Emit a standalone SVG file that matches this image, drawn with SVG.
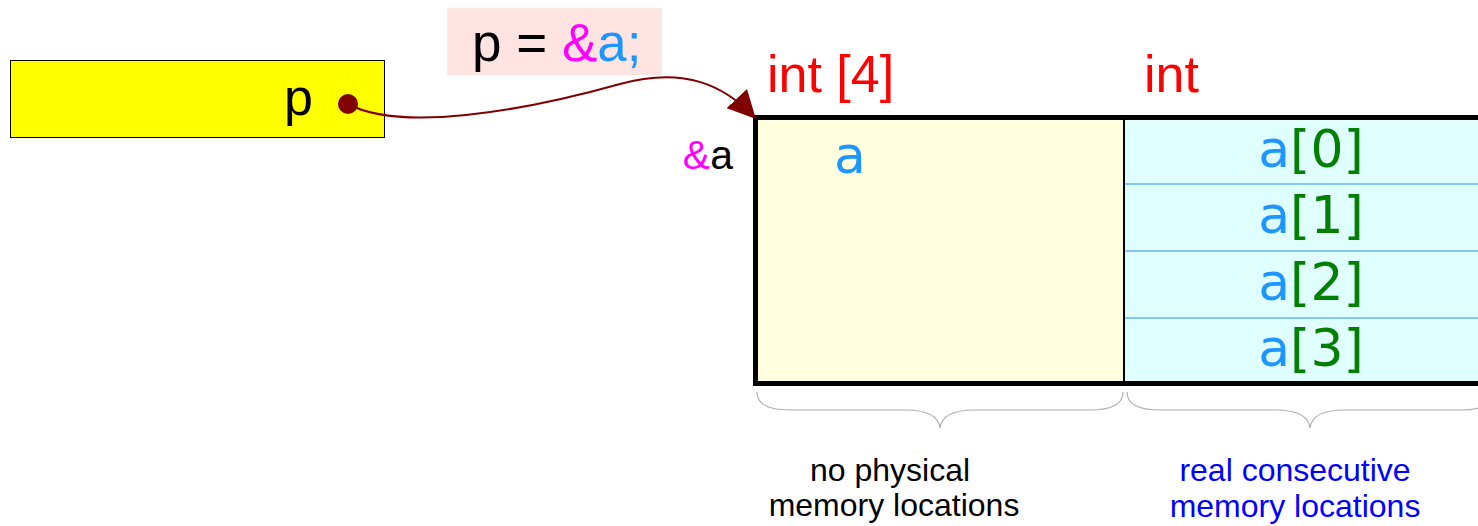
<svg xmlns="http://www.w3.org/2000/svg" width="1478" height="526" viewBox="0 0 1478 526">
<style>
.sans{font-family:"Liberation Sans",Arial,sans-serif}
.dv{font-family:"DejaVu Sans",sans-serif;font-size:52px}
.blue{fill:#1e96ff}
.green{fill:#007f00}
.mag{fill:#ff00ff}
.red{fill:#ff0000}
.brace{fill:none;stroke:#b0b0b0;stroke-width:1.2}
.sep{stroke:#66b3ff;stroke-width:1.5}
</style>
<defs>
<marker id="ah" viewBox="0 0 10 10" refX="9" refY="5" markerWidth="28" markerHeight="28" markerUnits="userSpaceOnUse" orient="auto">
<path d="M0,0 L10,5 L0,10 Z" fill="#800000"/>
</marker>
</defs>
<g id="pointer-p">
<rect x="10.5" y="60.5" width="374" height="77" fill="#ffff00" stroke="#000" stroke-width="1"/>
<text x="313" y="115" class="sans" font-size="52" text-anchor="end" fill="#000">p</text>
<circle cx="348" cy="104" r="10" fill="#800000"/>
</g>
<g id="label-assign">
<rect x="447" y="8" width="215" height="67" fill="#ffe4e1"/>
<text x="472" y="61" class="sans" font-size="53"><tspan fill="#000">p = </tspan><tspan class="mag">&amp;</tspan><tspan class="blue">a;</tspan></text>
</g>
<g id="type-labels">
<text x="767" y="92" class="sans red" font-size="52">int [4]</text>
<text x="1144" y="92" class="sans red" font-size="52">int</text>
</g>
<g id="addr-label">
<text x="733" y="169" class="sans" font-size="41" text-anchor="end"><tspan class="mag">&amp;</tspan><tspan fill="#000">a</tspan></text>
</g>
<g id="array-a">
<rect x="757" y="119" width="367" height="263" fill="#ffffe0"/>
<rect x="1124" y="119" width="370" height="263" fill="#e0ffff"/>
<line x1="1125" y1="184" x2="1494" y2="184" class="sep"/>
<line x1="1125" y1="251" x2="1494" y2="251" class="sep"/>
<line x1="1125" y1="318" x2="1494" y2="318" class="sep"/>
<line x1="1124" y1="119" x2="1124" y2="382" stroke="#000" stroke-width="2"/>
<rect x="755.5" y="117.5" width="740" height="266" fill="none" stroke="#000" stroke-width="5"/>
<text x="834" y="173" class="dv blue">a</text>
<text x="1311" y="167" class="dv" text-anchor="middle"><tspan class="blue">a</tspan><tspan class="green">[0]</tspan></text>
<text x="1311" y="233" class="dv" text-anchor="middle"><tspan class="blue">a</tspan><tspan class="green">[1]</tspan></text>
<text x="1311" y="300" class="dv" text-anchor="middle"><tspan class="blue">a</tspan><tspan class="green">[2]</tspan></text>
<text x="1311" y="366" class="dv" text-anchor="middle"><tspan class="blue">a</tspan><tspan class="green">[3]</tspan></text>
</g>
<g id="braces">
<path class="brace" d="M757,392 Q757,410 790,410 L905,410 Q938,410 940,428 Q942,410 975,410 L1090,410 Q1123,410 1123,392"/>
<path class="brace" d="M1127,392 Q1127,410 1160,410 L1275,410 Q1308,410 1310,428 Q1312,410 1345,410 L1460,410 Q1493,410 1493,392"/>
</g>
<g id="notes">
<text x="890" y="481" class="sans" font-size="32" text-anchor="middle" fill="#000">no physical</text>
<text x="894" y="516" class="sans" font-size="32" text-anchor="middle" fill="#000">memory locations</text>
<text x="1295" y="481" class="sans" font-size="32" text-anchor="middle" fill="#0000ff">real consecutive</text>
<text x="1295" y="517" class="sans" font-size="32" text-anchor="middle" fill="#0000ff">memory locations</text>
</g>
<g id="connectors">
<path d="M348,104 C400,132 520,112 620,84 C685,66 725,86 754,117" fill="none" stroke="#800000" stroke-width="2" marker-end="url(#ah)"/>
</g>
</svg>
